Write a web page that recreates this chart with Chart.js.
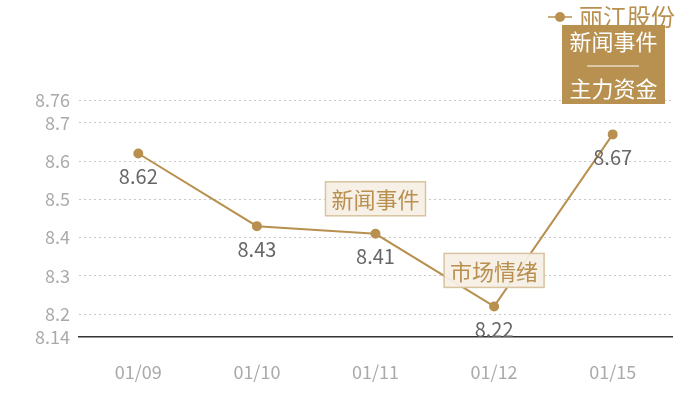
<!DOCTYPE html>
<html>
<head>
<meta charset="utf-8">
<script src="https://cdn.jsdelivr.net/npm/chart.js@4"></script>
<style>
  html, body { margin: 0; padding: 0; background: #fff; }
  #wrap { width: 700px; height: 400px; }
</style>
</head>
<body>
<div id="wrap"><canvas id="myChart"></canvas></div>
<script>
// datos del gráfico
const categorias = ["01/09", "01/10", "01/11", "01/12", "01/15"];
const precios = [8.62, 8.43, 8.41, 8.22, 8.67];
const ticksY = [8.14, 8.2, 8.3, 8.4, 8.5, 8.6, 8.7, 8.76];
const nombreSerie = "丽江股份";
// notas sobre los puntos: [índice, texto]
const notas = [[2, "新闻事件"], [3, "市场情绪"]];
const notaLeyenda = ["新闻事件", "——", "主力资金"];

const ORO = "#b8904f";
const FUENTE = "'Noto Sans CJK SC', 'Noto Sans', sans-serif";

// Plugin para etiquetas, notas y leyenda
const extras = {
    id: "extras",
    afterDatasetsDraw(chart) {
        const c = chart.ctx;
        const meta = chart.getDatasetMeta(0);
        c.save();
        // valores debajo de cada punto
        c.font = "20px " + FUENTE;
        c.fillStyle = "#666";
        c.textAlign = "center";
        c.textBaseline = "middle";
        meta.data.forEach((p, i) => {
            c.fillText(precios[i].toFixed(2), p.x, p.y + 23);
        });

        // cajas de notas
        c.font = "22px " + FUENTE;
        notas.forEach(([i, txt]) => {
            const p = meta.data[i];
            const cx = p.x;
            const cy = i === 2 ? p.y - 35 : p.y - 36;
            const w = c.measureText(txt).width + 12;
            const h = 34;
            c.fillStyle = "rgba(245,239,230,0.95)";
            c.fillRect(cx - w / 2, cy - h / 2, w, h);
            c.strokeStyle = "#d9c4a0";
            c.lineWidth = 1.5;
            c.strokeRect(cx - w / 2, cy - h / 2, w, h);
            c.fillStyle = ORO;
            c.fillText(txt, cx, cy + 1);
        });

        // leyenda
        const lx = 548, ly = 17;
        c.strokeStyle = ORO;
        c.lineWidth = 1.5;
        c.beginPath();
        c.moveTo(lx, ly);
        c.lineTo(lx + 24, ly);
        c.stroke();
        c.fillStyle = ORO;
        c.beginPath();
        c.arc(lx + 12, ly, 5, 0, Math.PI * 2);
        c.fill();
        c.textAlign = "left";
        c.font = "24px " + FUENTE;
        c.fillText(nombreSerie, lx + 31, ly);

        // caja dorada
        const bx = 562, by = 25, bw = 103, bh = 79;
        c.fillStyle = ORO;
        c.fillRect(bx, by, bw, bh);
        c.fillStyle = "#fff";
        c.textAlign = "center";
        c.font = "22px " + FUENTE;
        c.fillText(notaLeyenda[0], bx + bw / 2, by + 17);
        c.strokeStyle = "#fff";
        c.lineWidth = 1.2;
        c.beginPath();
        c.moveTo(bx + 25, by + 41);
        c.lineTo(bx + bw - 26, by + 41);
        c.stroke();
        c.fillText(notaLeyenda[2], bx + bw / 2, by + 64);
        c.restore();
    }
};

new Chart(document.getElementById("myChart").getContext("2d"), {
    type: "line",
    data: {
        labels: categorias,
        datasets: [{
            label: nombreSerie,
            data: precios,
            borderColor: ORO,
            backgroundColor: ORO,
            borderWidth: 2,
            pointRadius: 4,
            pointHoverRadius: 4,
            tension: 0
        }]
    },
    options: {
        responsive: true,
        maintainAspectRatio: false,
        animation: false,
        layout: { padding: { top: 100, right: 28, left: 0, bottom: 0 } },
        scales: {
            x: {
                offset: true,
                afterFit: (axis) => { axis.height = 63; },
                grid: { display: false, drawTicks: false },
                border: { display: true, color: "#333", width: 1.5 },
                ticks: { color: "#aaa", padding: 24, font: { size: 18, family: FUENTE } }
            },
            y: {
                min: 8.14,
                max: 8.76,
                afterFit: (axis) => { axis.width = 79; },
                afterBuildTicks: (axis) => { axis.ticks = ticksY.map(v => ({ value: v })); },
                grid: {
                    color: (ctx) => ctx.tick && ctx.tick.value === 8.14 ? "rgba(0,0,0,0)" : "#c8c8c8",
                    drawTicks: false,
                    lineWidth: 1
                },
                border: { display: false, dash: [2, 3] },
                ticks: {
                    color: "#aaa",
                    padding: 9,
                    font: { size: 18, family: FUENTE },
                    callback: (v) => String(Math.round(v * 100) / 100)
                }
            }
        },
        plugins: {
            legend: { display: false },
            tooltip: { enabled: false }
        }
    },
    plugins: [extras]
});
</script>
</body>
</html>
